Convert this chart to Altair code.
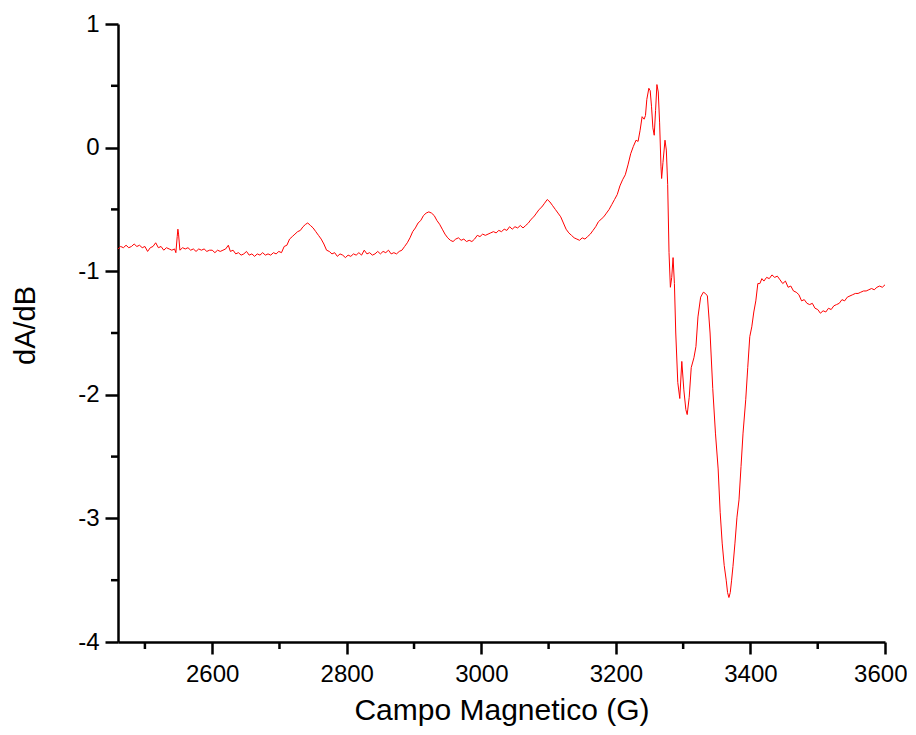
import altair as alt
import pandas as pd

# Magnetic field (G) and derivative signal dA/dB
field = [
    2460, 2464, 2468, 2472, 2476, 2480, 2484, 2488, 2492, 2496, 2500, 2504, 2508, 2512, 2516, 2520,
    2524, 2528, 2532, 2536, 2540, 2544, 2546, 2548, 2549, 2550, 2552, 2556, 2560, 2564, 2568, 2572,
    2576, 2580, 2584, 2588, 2592, 2596, 2600, 2604, 2608, 2612, 2616, 2620, 2624, 2627, 2631, 2635,
    2639, 2643, 2647, 2651, 2655, 2659, 2663, 2667, 2671, 2675, 2679, 2683, 2687, 2691, 2695, 2699,
    2703, 2707, 2711, 2715, 2719, 2723, 2727, 2731, 2735, 2739, 2742, 2746, 2750, 2754, 2758, 2762,
    2766, 2770, 2774, 2778, 2782, 2786, 2790, 2794, 2798, 2802, 2806, 2810, 2814, 2818, 2822, 2826,
    2830, 2834, 2838, 2842, 2846, 2850, 2854, 2858, 2862, 2866, 2870, 2874, 2878, 2882, 2886, 2890,
    2894, 2898, 2902, 2906, 2910, 2914, 2918, 2922, 2926, 2930, 2934, 2938, 2942, 2946, 2950, 2954,
    2958, 2962, 2966, 2970, 2974, 2978, 2982, 2986, 2990, 2994, 2998, 3002, 3006, 3010, 3014, 3018,
    3022, 3026, 3030, 3034, 3038, 3042, 3046, 3050, 3054, 3058, 3062, 3066, 3070, 3074, 3078, 3082,
    3086, 3090, 3094, 3098, 3102, 3106, 3110, 3114, 3118, 3122, 3126, 3130, 3134, 3138, 3142, 3146,
    3150, 3154, 3158, 3162, 3166, 3170, 3174, 3178, 3182, 3186, 3190, 3194, 3198, 3202, 3206, 3210,
    3214, 3218, 3222, 3226, 3230, 3233, 3236, 3239, 3242, 3244, 3246, 3249, 3251, 3253, 3255, 3257,
    3259, 3261, 3263, 3265, 3267, 3268, 3270, 3273, 3275, 3277, 3279, 3281, 3283, 3285, 3287, 3289,
    3292, 3295, 3298, 3301, 3304, 3306, 3309, 3312, 3316, 3319, 3322, 3326, 3330, 3333, 3336, 3340,
    3344, 3348, 3352, 3355, 3358, 3361, 3364, 3366, 3368, 3370, 3372, 3374, 3377, 3380, 3383, 3386,
    3389, 3393, 3396, 3399, 3402, 3405, 3408, 3411, 3414, 3417, 3420, 3424, 3428, 3432, 3436, 3440,
    3444, 3448, 3452, 3456, 3460, 3464, 3468, 3472, 3476, 3480, 3484, 3488, 3492, 3496, 3500, 3504,
    3508, 3512, 3516, 3520, 3524, 3528, 3532, 3536, 3540, 3544, 3548, 3552, 3556, 3560, 3564, 3568,
    3572, 3576, 3580, 3584, 3588, 3592, 3596, 3600,
]
signal = [
    -0.82, -0.80, -0.81, -0.79, -0.81, -0.80, -0.78, -0.80, -0.79, -0.81, -0.80, -0.84, -0.81, -0.80, -0.77, -0.81,
    -0.80, -0.83, -0.81, -0.82, -0.83, -0.82, -0.85, -0.72, -0.66, -0.70, -0.83, -0.81, -0.82, -0.81, -0.83, -0.82,
    -0.84, -0.82, -0.83, -0.82, -0.84, -0.83, -0.83, -0.85, -0.83, -0.84, -0.83, -0.82, -0.79, -0.84, -0.83, -0.86,
    -0.85, -0.87, -0.86, -0.84, -0.87, -0.86, -0.88, -0.86, -0.87, -0.85, -0.87, -0.86, -0.87, -0.85, -0.86, -0.84,
    -0.85, -0.80, -0.79, -0.74, -0.72, -0.70, -0.68, -0.67, -0.64, -0.62, -0.61, -0.63, -0.65, -0.68, -0.71, -0.74,
    -0.78, -0.83, -0.84, -0.86, -0.85, -0.88, -0.86, -0.87, -0.89, -0.87, -0.88, -0.86, -0.87, -0.85, -0.87, -0.83,
    -0.86, -0.85, -0.87, -0.86, -0.84, -0.86, -0.84, -0.85, -0.83, -0.86, -0.85, -0.86, -0.84, -0.83, -0.80, -0.77,
    -0.73, -0.68, -0.65, -0.61, -0.59, -0.55, -0.53, -0.52, -0.53, -0.55, -0.59, -0.62, -0.66, -0.70, -0.73, -0.75,
    -0.76, -0.74, -0.73, -0.75, -0.74, -0.76, -0.75, -0.76, -0.74, -0.71, -0.72, -0.70, -0.71, -0.70, -0.69, -0.68,
    -0.69, -0.67, -0.68, -0.66, -0.67, -0.64, -0.66, -0.64, -0.65, -0.63, -0.65, -0.63, -0.61, -0.58, -0.56, -0.53,
    -0.50, -0.48, -0.45, -0.42, -0.44, -0.47, -0.50, -0.53, -0.56, -0.61, -0.66, -0.69, -0.71, -0.73, -0.74, -0.75,
    -0.73, -0.74, -0.72, -0.70, -0.67, -0.64, -0.60, -0.58, -0.56, -0.53, -0.50, -0.46, -0.42, -0.38, -0.31, -0.26,
    -0.22, -0.14, -0.05, 0.01, 0.06, 0.05, 0.14, 0.25, 0.23, 0.26, 0.39, 0.48, 0.46, 0.33, 0.16, 0.10,
    0.30, 0.51, 0.45, 0.20, -0.15, -0.25, -0.12, 0.06, -0.02, -0.30, -0.85, -1.13, -1.05, -0.89, -1.10, -1.50,
    -1.90, -2.03, -1.73, -1.96, -2.12, -2.16, -2.02, -1.78, -1.70, -1.61, -1.37, -1.21, -1.17, -1.18, -1.20, -1.50,
    -1.95, -2.31, -2.60, -2.95, -3.20, -3.38, -3.50, -3.60, -3.64, -3.60, -3.50, -3.39, -3.20, -2.99, -2.85, -2.58,
    -2.31, -2.04, -1.78, -1.53, -1.45, -1.33, -1.24, -1.10, -1.10, -1.06, -1.08, -1.05, -1.06, -1.03, -1.05, -1.04,
    -1.07, -1.10, -1.08, -1.13, -1.12, -1.16, -1.17, -1.19, -1.24, -1.23, -1.26, -1.27, -1.26, -1.30, -1.31, -1.34,
    -1.32, -1.33, -1.30, -1.31, -1.28, -1.27, -1.26, -1.23, -1.24, -1.21, -1.20, -1.19, -1.18, -1.18, -1.17, -1.16,
    -1.16, -1.15, -1.14, -1.15, -1.13, -1.12, -1.13, -1.11,
]

x_major = [2600, 2800, 3000, 3200, 3400, 3600]
x_minor = [2500, 2700, 2900, 3100, 3300, 3500]
y_major = [-4, -3, -2, -1, 0, 1]
y_minor = [0.5, -0.5, -1.5, -2.5, -3.5]

W, H = 767, 618
FONT = "Liberation Sans"

df = pd.DataFrame({"B": field, "dAdB": signal})

x_scale = alt.Scale(domain=[2460, 3600], nice=False, zero=False)
y_scale = alt.Scale(domain=[-4, 1], nice=False, zero=False)

common = dict(
    grid=False,
    domainColor="black",
    domainWidth=2.5,
    tickColor="black",
    tickWidth=2.5,
    labelColor="black",
    labelFont=FONT,
    labelFontSize=24,
    titleFont=FONT,
    titleColor="black",
    titleFontWeight="normal",
    labelOverlap=False,
)

x_axis = alt.Axis(
    values=x_major, format="d", title="Campo Magnetico (G)",
    tickSize=12, labelPadding=8, titleFontSize=30,
    titleBaseline="alphabetic", titleY=77,
    labelFlush=True, labelFlushOffset=22,
    **common,
)
y_axis = alt.Axis(
    values=y_major, title="dA/dB",
    labelExpr="datum.value < 0 ? '-' + abs(datum.value) : '' + datum.value",
    tickSize=13, labelPadding=6, titleFontSize=29,
    titleAngle=-90, titleBaseline="alphabetic", titleX=-84, titleY=301,
    titleAlign="center", labelFlush=False,
    **common,
)

line = alt.Chart(df).mark_line(color="#ff0000", strokeWidth=1).encode(
    x=alt.X("B:Q", scale=x_scale, axis=x_axis),
    y=alt.Y("dAdB:Q", scale=y_scale, axis=y_axis),
    order="B:Q",
)

xminor = alt.Chart(pd.DataFrame({"B": x_minor})).mark_rule(
    color="black", strokeWidth=2.5
).encode(
    x=alt.X("B:Q", scale=x_scale, axis=x_axis),
    y=alt.value(H),
    y2=alt.value(H + 7),
)

yminor = alt.Chart(pd.DataFrame({"dAdB": y_minor})).mark_rule(
    color="black", strokeWidth=2.5
).encode(
    y=alt.Y("dAdB:Q", scale=y_scale, axis=y_axis),
    x=alt.value(0),
    x2=alt.value(-7),
)

chart = (
    alt.layer(line, xminor, yminor)
    .properties(
        width=W,
        height=H,
        padding={"left": 110, "top": 16, "right": 22, "bottom": 84},
        autosize=alt.AutoSizeParams(type="none"),
        background="white",
    )
    .configure_view(stroke=None)
)

chart.save("out.html", embed_options={"renderer": "svg", "actions": False})
